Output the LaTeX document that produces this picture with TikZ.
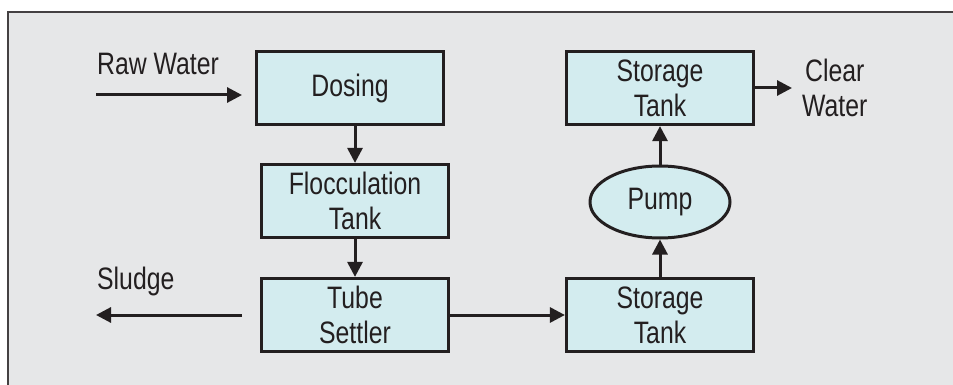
\documentclass[tikz,border=0pt]{standalone}
\usepackage{fontspec}
\setmainfont[FakeStretch=0.80]{Liberation Sans}
\usetikzlibrary{arrows.meta,shapes.geometric}
\definecolor{bg}{HTML}{E6E7E8}
\definecolor{boxfill}{HTML}{D3ECEF}
\definecolor{ink}{HTML}{231F20}
\tikzset{
  procbox/.style={draw=ink, line width=3.2pt, fill=boxfill, minimum width=187pt, minimum height=73pt, align=center, font=\fontsize{31}{35}\selectfont, text=ink, inner sep=0pt},
  pumpnode/.style={ellipse, draw=ink, line width=3pt, fill=boxfill, minimum width=140pt, minimum height=72pt, inner sep=0pt, font=\fontsize{31}{35}\selectfont, text=ink},
  lbl/.style={font=\fontsize{31}{35}\selectfont, text=ink, align=center, inner sep=0pt},
  flow/.style={draw=ink, line width=3pt, -{Triangle[length=15pt,width=15pt]}}
}
\begin{document}
\begin{tikzpicture}[x=1pt,y=-1pt]
\useasboundingbox (0,0) rectangle (953,385);
\fill[white] (0,0) rectangle (953,385);
\fill[bg] (8,12) rectangle (953,385);
\draw[ink!85, line width=2.4pt] (8,385) -- (8,12) -- (953,12);
\node[procbox] (dos) at (350,88) {Dosing};
\node[procbox] (floc) at (355,201) {Flocculation\\Tank};
\node[procbox] (tube) at (355,315) {Tube\\Settler};
\node[procbox] (st2) at (660,315) {Storage\\Tank};
\node[pumpnode] (pump) at (660,202) {Pump};
\node[procbox] (st1) at (660,88) {Storage\\Tank};
\coordinate (rwstart) at (96,95);
\coordinate (rwend) at (242,95);
\coordinate (slstart) at (242,315);
\coordinate (slend) at (96,315);
\coordinate (cwend) at (792,88);
\node[lbl, anchor=west] (rwl) at (97,64) {Raw Water};
\node[lbl, anchor=west] (sll) at (97,281) {Sludge};
\node[lbl, anchor=west] (cwl) at (802,88) {Clear\\Water};
\draw[flow] (rwstart) -- (rwend);
\draw[flow] (dos.south -| floc.north) -- (floc.north);
\draw[flow] (floc) -- (tube);
\draw[flow] (slstart) -- (slend);
\draw[flow] (tube.east) -- (st2.west);
\draw[flow] (st2) -- (pump);
\draw[flow] (pump) -- (st1);
\draw[flow] (st1.east) -- (cwend);
\end{tikzpicture}
\end{document}
